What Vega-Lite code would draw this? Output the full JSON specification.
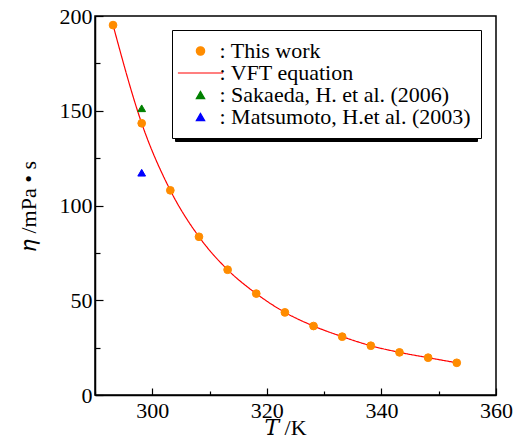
{
  "$schema": "https://vega.github.io/schema/vega-lite/v6.json",
  "width": 401,
  "height": 379,
  "autosize": "none",
  "padding": {"left": 95, "top": 16, "right": 19, "bottom": 43},
  "background": "white",
  "config": {
    "font": "Liberation Serif",
    "view": {"stroke": "black", "strokeWidth": 1.5},
    "axis": {
      "grid": false,
      "domainColor": "black",
      "domainWidth": 1.5,
      "tickColor": "black",
      "tickWidth": 1.2,
      "labelColor": "black",
      "labelFont": "Liberation Serif",
      "labelFontSize": 22,
      "titleFont": "Liberation Serif, DejaVu Serif",
      "titleFontSize": 22,
      "titleFontWeight": "normal",
      "titleColor": "black"
    }
  },
  "data": {
    "values": [
      {"T": 293.15, "eta": 195.2, "series": "This work"},
      {"T": 298.15, "eta": 143.4, "series": "This work"},
      {"T": 303.15, "eta": 108.0, "series": "This work"},
      {"T": 308.15, "eta": 83.5, "series": "This work"},
      {"T": 313.15, "eta": 66.1, "series": "This work"},
      {"T": 318.15, "eta": 53.5, "series": "This work"},
      {"T": 323.15, "eta": 43.6, "series": "This work"},
      {"T": 328.15, "eta": 36.4, "series": "This work"},
      {"T": 333.15, "eta": 30.8, "series": "This work"},
      {"T": 338.15, "eta": 26.0, "series": "This work"},
      {"T": 343.15, "eta": 22.5, "series": "This work"},
      {"T": 348.15, "eta": 19.7, "series": "This work"},
      {"T": 353.15, "eta": 17.0, "series": "This work"},
      {"T": 298.15, "eta": 151.3, "series": "Sakaeda, H. et al. (2006)"},
      {"T": 298.15, "eta": 117.3, "series": "Matsumoto, H.et al. (2003)"}
    ]
  },
  "encoding": {
    "x": {
      "field": "T",
      "type": "quantitative",
      "scale": {"domain": [290, 360], "nice": false, "zero": false},
      "axis": {
        "title": "𝑇 /K",
        "values": [290, 300, 310, 320, 330, 340, 350, 360],
        "labelExpr": "datum.value % 20 === 0 ? datum.label : ''",
        "tickSize": {"condition": {"test": "datum.value % 20 === 0", "value": -7}, "value": -4},
        "labelPadding": 12,
        "labelFlush": false,
        "titleX": 190,
        "titleY": 39,
        "titleBaseline": "alphabetic"
      }
    },
    "y": {
      "field": "eta",
      "type": "quantitative",
      "scale": {"domain": [0, 200], "nice": false},
      "axis": {
        "title": "𝜂 /mPa • s",
        "values": [0, 25, 50, 75, 100, 125, 150, 175, 200],
        "labelExpr": "datum.value % 50 === 0 ? datum.label : ''",
        "tickSize": {"condition": {"test": "datum.value % 50 === 0", "value": -8}, "value": -5},
        "labelPadding": 11,
        "labelFlush": false,
        "titlePadding": 19
      }
    }
  },
  "layer": [
    {
      "transform": [{"filter": "datum.series === 'This work'"}],
      "mark": {"type": "line", "color": "#ff0000", "strokeWidth": 1.2, "interpolate": "monotone"},
      "encoding": {
        "strokeDash": {
          "field": "series",
          "type": "nominal",
          "scale": {
            "domain": ["Matsumoto, H.et al. (2003)", "Sakaeda, H. et al. (2006)", "VFT equation", "This work"],
            "range": [[1, 0], [1, 0], [1, 0], [1, 0]]
          },
          "legend": {
            "orient": "none",
            "legendX": 80,
            "legendY": 17,
            "zindex": 0,
            "title": null,
            "padding": 10,
            "strokeColor": "black",
            "fillColor": "black",
            "labelFont": "Liberation Serif",
            "labelFontSize": 22,
            "labelColor": "black",
            "labelLimit": 400,
            "labelExpr": "' '",
            "symbolSize": 70,
            "symbolStrokeWidth": 1.2,
            "symbolOpacity": 0,
            "symbolOffset": 7.5,
            "labelOffset": 252,
            "rowPadding": 0
          }
        }
      }
    },
    {
      "mark": {"type": "point", "filled": false, "opacity": 1, "size": 60, "strokeWidth": 1},
      "encoding": {
        "color": {
          "field": "series",
          "type": "nominal",
          "scale": {
            "domain": ["This work", "VFT equation", "Sakaeda, H. et al. (2006)", "Matsumoto, H.et al. (2003)"],
            "range": ["#ff8c00", "#ff0000", "#008000", "#0000ff"]
          },
          "legend": {
            "orient": "none",
            "legendX": 77,
            "legendY": 14,
            "zindex": 1,
            "title": null,
            "padding": 10,
            "strokeColor": "black",
            "fillColor": "white",
            "labelFont": "Liberation Serif",
            "labelFontSize": 22,
            "labelColor": "black",
            "labelLimit": 400,
            "labelExpr": "': ' + datum.label",
            "symbolSize": 70,
            "symbolStrokeWidth": 1.2,
            "symbolOffset": 7.5,
            "labelOffset": 8,
            "rowPadding": 0,
            "encode": {
              "legend": {"strokeWidth": {"value": 1.5}}
            }
          }
        },
        "fill": {
          "field": "series",
          "type": "nominal",
          "scale": {
            "domain": ["This work", "VFT equation", "Sakaeda, H. et al. (2006)", "Matsumoto, H.et al. (2003)"],
            "range": ["#ff8c00", "#ff0000", "#008000", "#0000ff"]
          }
        },
        "shape": {
          "field": "series",
          "type": "nominal",
          "scale": {
            "domain": ["This work", "VFT equation", "Sakaeda, H. et al. (2006)", "Matsumoto, H.et al. (2003)"],
            "range": ["circle", "M-5.4,0H5.4", "triangle-up", "triangle-up"]
          }
        }
      }
    }
  ]
}
